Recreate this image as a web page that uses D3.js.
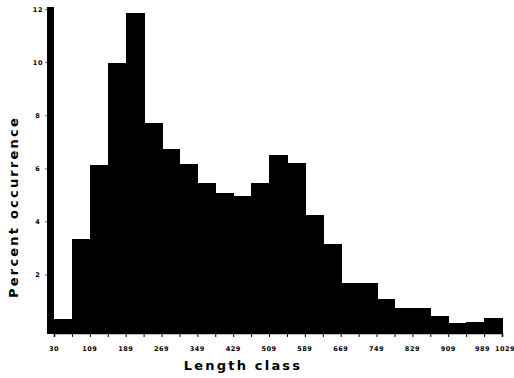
<!DOCTYPE html>
<html><head><meta charset="utf-8">
<script src="https://cdn.jsdelivr.net/npm/d3@7"></script>
<style>body{margin:0;background:#fff}svg{display:block}</style>
</head><body>
<svg id="c" width="514" height="378"></svg>
<script>
const binStarts = [30,70,110,150,190,230,270,310,350,390,430,470,510,550,590,630,670,710,750,790,830,870,910,950,990];
const binWidth = 40;
const percents = [0.33,3.33,6.13,9.95,11.86,7.72,6.73,6.15,5.45,5.06,4.95,5.45,6.5,6.21,4.24,3.15,1.68,1.68,1.08,0.74,0.74,0.44,0.18,0.21,0.37];
const xTickLabels = [30,109,189,269,349,429,509,589,669,749,829,909,989,1029];
const yTicks = [2,4,6,8,10,12];

const svg = d3.select("#c");
const x = d3.scaleLinear().domain([30,1030]).range([54,502]);
const y = d3.scaleLinear().domain([-0.2,12]).range([333,9]);

// bars
svg.append("g").attr("shape-rendering","crispEdges").selectAll("rect").data(binStarts).join("rect")
  .attr("x", (d)=>x(d))
  .attr("width", (d)=>x(d+binWidth)-x(d)+1)
  .attr("y", (d,i)=>y(percents[i]))
  .attr("height", (d,i)=>y(-0.2)-y(percents[i]))
  .attr("fill","#000");

// x axis baseline + ticks
const xa = svg.append("g").attr("transform","translate(0,333)")
  .call(d3.axisBottom(x).tickValues(binStarts.concat([1030])).tickSize(4).tickFormat(""));
xa.select(".domain").attr("stroke","#000").attr("stroke-width",1.5);
xa.selectAll(".tick line").attr("stroke","#000").attr("stroke-width",1);

// x tick labels
svg.append("g").selectAll("text").data(xTickLabels).join("text")
  .attr("x", d=> d===30 ? x(30) : d===1029 ? 505 : d===989 ? x(989)-1 : x(d+1))
  .attr("y", 351)
  .attr("text-anchor","middle")
  .attr("font-family","DejaVu Sans")
  .attr("font-weight","bold")
  .attr("font-size",6.5)
  .attr("letter-spacing",0.5)
  .text(d=>d);

// y axis thick bar
svg.append("rect").attr("x",47).attr("y",7).attr("width",7).attr("height",327).attr("fill","#000");
// y ticks
const ya = svg.append("g").attr("transform","translate(47,0)")
  .call(d3.axisLeft(y).tickValues(yTicks).tickSize(2).tickFormat(""));
ya.select(".domain").remove();
ya.selectAll(".tick line").attr("stroke","#000").attr("stroke-width",0.6);
svg.append("g").selectAll("text").data(yTicks).join("text")
  .attr("x",38).attr("y",d=>y(d)+2.5)
  .attr("text-anchor","middle")
  .attr("font-family","DejaVu Sans")
  .attr("font-weight","bold")
  .attr("font-size",6.5)
  .attr("letter-spacing",0.8)
  .text(d=>d);

// axis titles
svg.append("text").attr("x",243).attr("y",370)
  .attr("text-anchor","middle")
  .attr("font-family","DejaVu Sans").attr("font-weight","bold")
  .attr("font-size",13).attr("letter-spacing",2.2)
  .text("Length  class");
svg.append("text").attr("transform","translate(18,207) rotate(-90)")
  .attr("text-anchor","middle")
  .attr("font-family","DejaVu Sans").attr("font-weight","bold")
  .attr("font-size",13).attr("letter-spacing",2.2)
  .text("Percent  occurrence");
</script>
</body></html>
